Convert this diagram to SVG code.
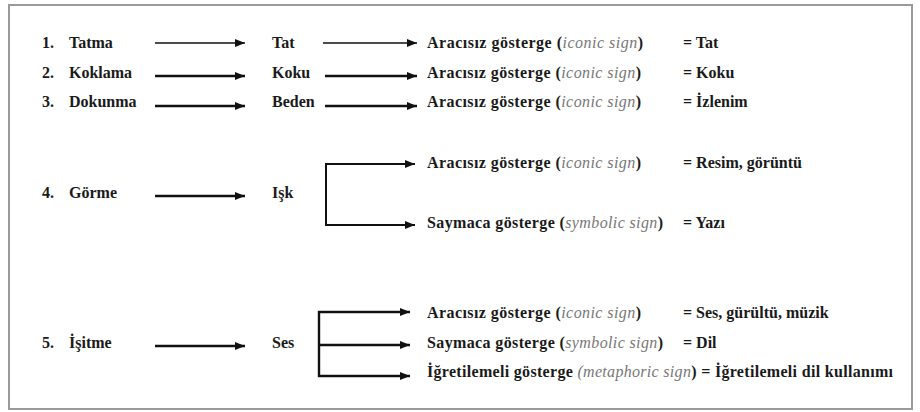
<svg xmlns="http://www.w3.org/2000/svg" width="920" height="412" viewBox="0 0 920 412" font-family="'Liberation Serif', 'DejaVu Serif', serif">
<style>
text{font-family:'Liberation Serif', 'DejaVu Serif', serif;font-size:16px;font-weight:bold;fill:#1a1a1a}
.it{font-style:italic;font-weight:normal;fill:#777}
.ln{stroke:#111;fill:none}
.thin{stroke-width:1.6}
.thick{stroke-width:2.4}
</style>
<defs>
<marker id="ah" viewBox="0 0 10 8" refX="10" refY="4" markerWidth="10" markerHeight="8" markerUnits="userSpaceOnUse" orient="auto">
<path d="M0,0 L10,4 L0,8 Z" fill="#111"/>
</marker>
</defs>
<rect x="9" y="5" width="903" height="404" fill="#fff" stroke="#9a9a9a" stroke-width="2"/>

<g id="connectors">
<line class="ln thin" x1="155" y1="43" x2="245" y2="43" marker-end="url(#ah)"/>
<line class="ln thin" x1="323" y1="43" x2="417" y2="43" marker-end="url(#ah)"/>
<line class="ln thick" x1="155" y1="76" x2="245" y2="76" marker-end="url(#ah)"/>
<line class="ln thick" x1="325" y1="76" x2="417" y2="76" marker-end="url(#ah)"/>
<line class="ln thick" x1="155" y1="106" x2="245" y2="106" marker-end="url(#ah)"/>
<line class="ln thick" x1="325" y1="106" x2="417" y2="106" marker-end="url(#ah)"/>
<line class="ln thick" x1="155" y1="196" x2="245" y2="196" marker-end="url(#ah)"/>
<path class="ln" stroke-width="2" d="M326,195 V164 H415" marker-end="url(#ah)"/>
<path class="ln" stroke-width="2" d="M326,195 V225 H415" marker-end="url(#ah)"/>
<line class="ln thick" x1="155" y1="346" x2="245" y2="346" marker-end="url(#ah)"/>
<path class="ln thick" d="M319,345 V312 H410" marker-end="url(#ah)"/>
<path class="ln thick" d="M319,345 V376 H410" marker-end="url(#ah)"/>
<line class="ln thick" x1="319" y1="345" x2="410" y2="345" marker-end="url(#ah)"/>
</g>

<g id="row1">
<text x="42" y="48">1.</text><text x="69" y="48">Tatma</text>
<text x="272" y="48">Tat</text>
<text x="427" y="48" textLength="216" lengthAdjust="spacing">Aracısız gösterge  (<tspan class="it">iconic sign</tspan>)</text>
<text x="683" y="48">= Tat</text>
</g>
<g id="row2">
<text x="42" y="78">2.</text><text x="69" y="78">Koklama</text>
<text x="272" y="78">Koku</text>
<text x="427" y="78" textLength="214" lengthAdjust="spacing">Aracısız gösterge (<tspan class="it">iconic sign</tspan>)</text>
<text x="683" y="78">= Koku</text>
</g>
<g id="row3">
<text x="42" y="107">3.</text><text x="69" y="107">Dokunma</text>
<text x="272" y="107">Beden</text>
<text x="427" y="107" textLength="214" lengthAdjust="spacing">Aracısız gösterge (<tspan class="it">iconic sign</tspan>)</text>
<text x="683" y="107">= İzlenim</text>
</g>
<g id="row4">
<text x="42" y="198">4.</text><text x="69" y="198">Görme</text>
<text x="272" y="198">Işk</text>
<text x="427" y="168" textLength="214" lengthAdjust="spacing">Aracısız gösterge (<tspan class="it">iconic sign</tspan>)</text>
<text x="683" y="168">= Resim, görüntü</text>
<text x="427" y="228" textLength="236" lengthAdjust="spacing">Saymaca gösterge (<tspan class="it">symbolic sign</tspan>)</text>
<text x="683" y="228">= Yazı</text>
</g>
<g id="row5">
<text x="42" y="348">5.</text><text x="69" y="348">İşitme</text>
<text x="272" y="348">Ses</text>
<text x="427" y="318" textLength="214" lengthAdjust="spacing">Aracısız gösterge (<tspan class="it">iconic sign</tspan>)</text>
<text x="683" y="318">= Ses, gürültü, müzik</text>
<text x="427" y="348" textLength="236" lengthAdjust="spacing">Saymaca gösterge (<tspan class="it">symbolic sign</tspan>)</text>
<text x="683" y="348">= Dil</text>
<text x="427" y="377" textLength="466" lengthAdjust="spacing">İğretilemeli gösterge <tspan class="it">(metaphoric sign</tspan>) = İğretilemeli dil kullanımı</text>
</g>
</svg>
